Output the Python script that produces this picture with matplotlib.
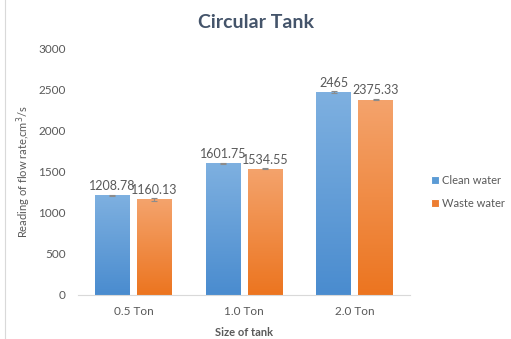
import numpy as np
import matplotlib.pyplot as plt
from matplotlib.colors import LinearSegmentedColormap

plt.rcParams['font.family'] = ['Lato', 'DejaVu Sans']

sizes = ["0.5 Ton", "1.0 Ton", "2.0 Ton"]
clean_water = [1208.78, 1601.75, 2465]
waste_water = [1160.13, 1534.55, 2375.33]
clean_err = [10, 8, 10]
waste_err = [15, 8, 9]
clean_labels = ["1208.78", "1601.75", "2465"]
waste_labels = ["1160.13", "1534.55", "2375.33"]

TEXT = "#595959"

fig = plt.figure(figsize=(5.11, 3.39), dpi=100)
ax = fig.add_axes([0.153, 0.130, 0.649, 0.728])

x = np.arange(len(sizes))
w = 0.315
off = 0.19

series = [
    ("Clean water", clean_water, clean_err, clean_labels, "#5b9bd5", ["#4a8ccf", "#7eb0e0"]),
    ("Waste water", waste_water, waste_err, waste_labels, "#ed7d31", ["#ec7520", "#f4a36c"]),
]

for i, (name, vals, errs, labels, col, grad) in enumerate(series):
    pos = x + (i * 2 - 1) * off
    bars = ax.bar(pos, vals, w, color=col, edgecolor="white", linewidth=0.8,
                  label=name, zorder=2)
    cmap = LinearSegmentedColormap.from_list(name, grad)
    for b in bars:
        gx, gy = b.get_x(), b.get_y()
        im = ax.imshow(np.linspace(0, 1, 100).reshape(-1, 1), cmap=cmap,
                       extent=[gx, gx + b.get_width(), gy, gy + b.get_height()],
                       origin="lower", aspect="auto", zorder=2.5)
        im.set_clip_path(b)
    ax.errorbar(pos, vals, yerr=errs, fmt="none", ecolor="#8c8c8c",
                elinewidth=0.8, capsize=2.5, capthick=0.8, zorder=3)
    for p, v, e, lab in zip(pos, vals, errs, labels):
        ax.text(p, v + e + 30, lab, ha="center", va="bottom", fontsize=9,
                color=TEXT)

ax.set_xlim(-0.5, 2.5)
ax.set_ylim(0, 3000)
ax.set_yticks(range(0, 3001, 500))
ax.set_xticks(x)
ax.set_xticklabels(sizes)
ax.tick_params(axis="both", length=0, labelsize=8.5, colors=TEXT, pad=8)
ax.tick_params(axis="y", pad=9)
for s in ["top", "right", "left"]:
    ax.spines[s].set_visible(False)
ax.spines["bottom"].set_color("#d9d9d9")
ax.set_facecolor("none")

ax.set_xlabel("Size of tank", fontsize=8, fontweight="bold", color=TEXT,
              labelpad=7)
ax.set_ylabel("Reading of flow rate,cm$^3$/s", fontsize=8, color=TEXT,
              labelpad=4)

fig.text(0.5, 0.935, "Circular Tank", ha="center", va="center", fontsize=14,
         fontweight="bold", color="#44546a")

leg = fig.legend(loc="upper left", bbox_to_anchor=(0.843, 0.485), frameon=False,
                 fontsize=8, handlelength=0.7, handleheight=0.7,
                 handletextpad=0.3, labelspacing=1.1, borderpad=0,
                 borderaxespad=0)
for t in leg.get_texts():
    t.set_color(TEXT)

fig.add_artist(plt.Line2D([0.01, 0.01], [0, 1], color="#d9d9d9", lw=0.8))

fig.savefig("out.png", dpi=100)
